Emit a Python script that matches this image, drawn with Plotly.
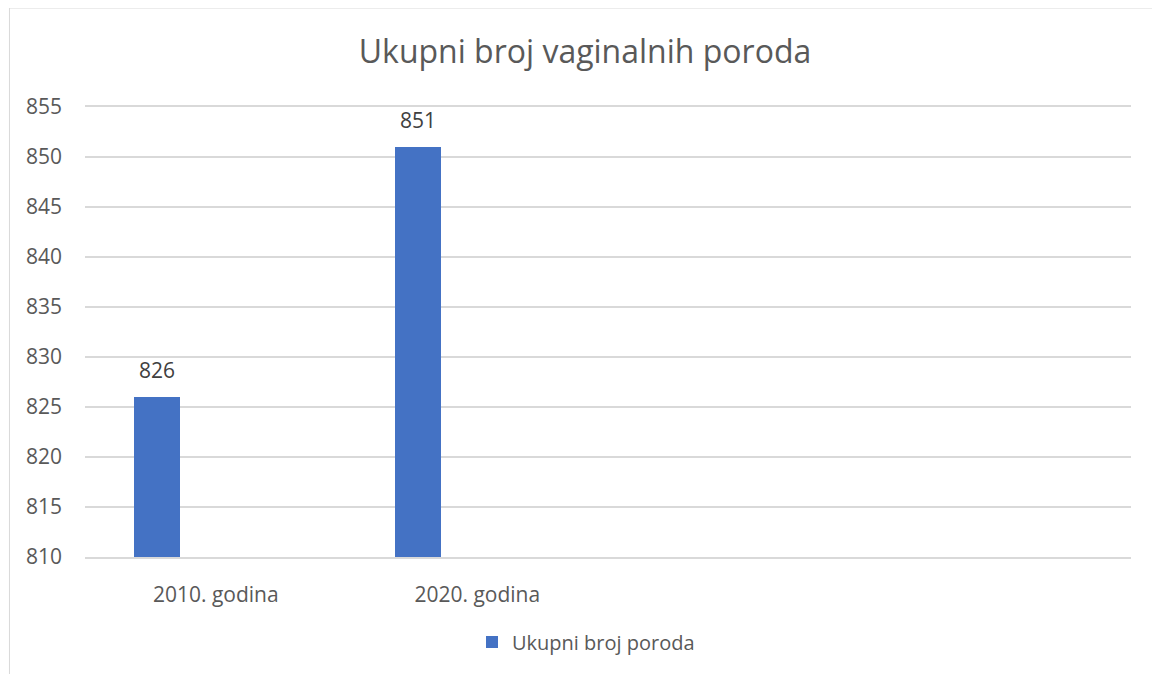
import plotly.graph_objects as go

# ---- data ----
categories = ["2010. godina", "2020. godina"]
values = [826, 851]
series_name = "Ukupni broj poroda"
title_text = "Ukupni broj vaginalnih poroda"
n_slots = 4  # category slots on the axis (two left empty, as in the reference)

# ---- styling ----
bar_color = "#4472C4"
text_color = "#595959"
grid_color = "#d9d9d9"
font_family = "Open Sans, Noto Sans, sans-serif"
bar_width = 0.176
bar_offset = -0.313
W, H = 1152, 666  # page adds an 8px body margin

xs = list(range(len(categories)))

fig = go.Figure()
fig.add_trace(go.Bar(
    x=xs, y=values, name=series_name,
    marker=dict(color=bar_color, line=dict(width=0)),
    width=bar_width, offset=bar_offset,
    showlegend=True,
))

for xi, v in zip(xs, values):
    fig.add_annotation(
        x=xi + bar_offset + bar_width / 2, y=v, xref="x", yref="y",
        text=str(v), showarrow=False, yanchor="bottom", yshift=11,
        font=dict(family=font_family, size=21, color="#404040"),
    )

fig.add_shape(type="rect", xref="paper", yref="paper",
              x0=-0.0722, x1=1.0263, y0=-0.4, y1=1.22,
              line=dict(color=grid_color, width=1), fillcolor="rgba(0,0,0,0)",
              layer="below")

fig.update_layout(
    width=W, height=H,
    margin=dict(l=77, r=29, t=99, b=117, autoexpand=False),
    paper_bgcolor="white", plot_bgcolor="white",
    font=dict(family=font_family, color=text_color),
    title=dict(text=title_text, x=577 / W, xref="container", xanchor="center",
               y=1 - 44 / H, yref="container", yanchor="middle",
               font=dict(size=32, color=text_color, family=font_family)),
    showlegend=True,
    legend=dict(orientation="h", xref="paper", x=(586 - 85) / 1046, xanchor="center",
                y=(557 - 642) / 450, yanchor="middle", itemwidth=30,
                font=dict(size=20, color=text_color, family=font_family)),
    xaxis=dict(range=[-0.5, n_slots - 0.5], tickvals=xs, ticktext=categories,
               showgrid=False, zeroline=False, ticks="",
               showline=True, mirror=True, linecolor=grid_color, linewidth=1.5,
               tickangle=0, automargin=False,
               tickfont=dict(size=21, color=text_color), ticklabelstandoff=18),
    yaxis=dict(range=[810, 855], dtick=5, tick0=810, showgrid=True,
               gridcolor=grid_color, gridwidth=1.5, zeroline=False, showline=False,
               ticks="", automargin=False, tickfont=dict(size=21, color=text_color),
               ticklabelstandoff=22),
    bargap=0,
)

fig.write_html("out.html")
